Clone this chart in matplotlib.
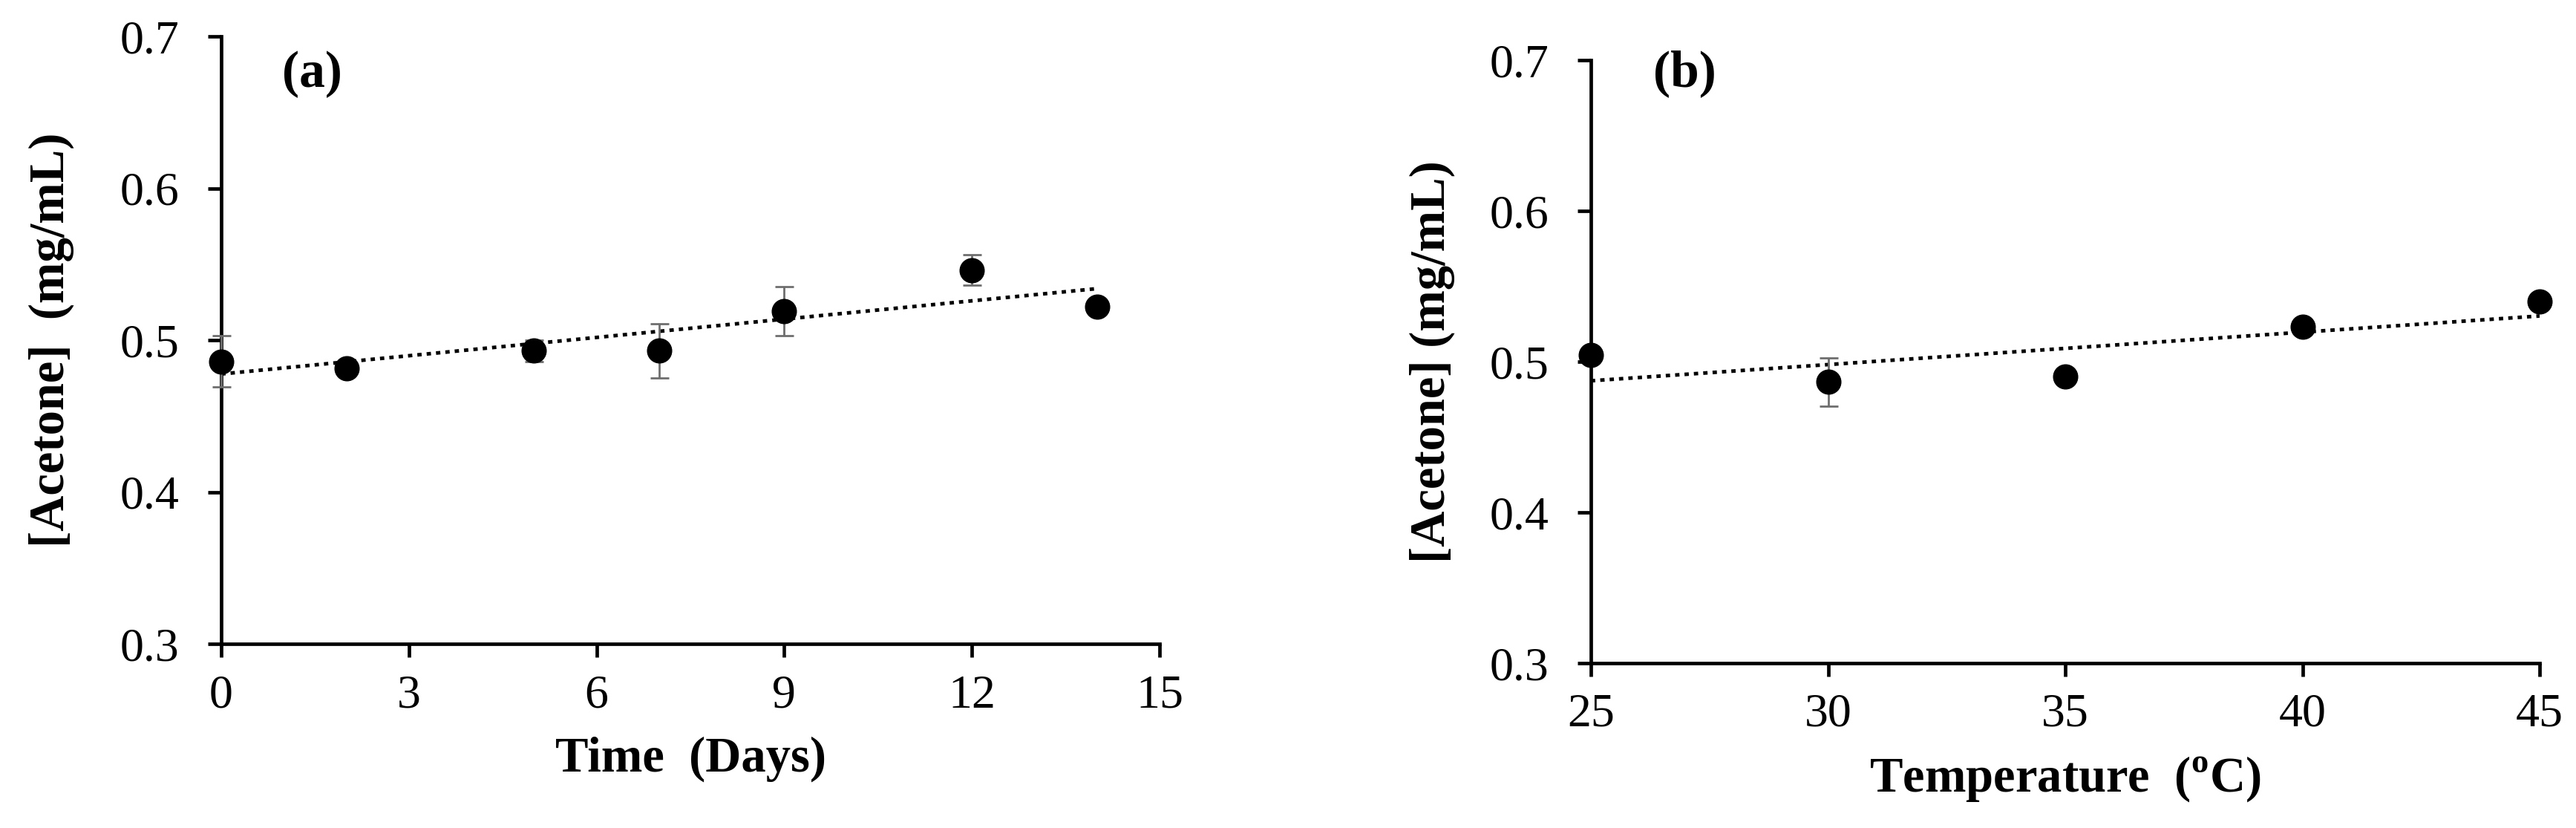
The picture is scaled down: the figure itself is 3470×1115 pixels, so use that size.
import matplotlib
matplotlib.use("Agg")
import matplotlib.pyplot as plt
import numpy as np

plt.rcParams['font.family'] = ['Liberation Serif', 'DejaVu Serif']
plt.rcParams['mathtext.fontset'] = 'custom'
plt.rcParams['mathtext.rm'] = 'Liberation Serif'
plt.rcParams['mathtext.bf'] = 'Liberation Serif:bold'

# --- (a) Acetone vs. time ---
days = [0, 2, 5, 7, 9, 12, 14]
acetone_days = [0.486, 0.4815, 0.493, 0.493, 0.519, 0.546, 0.522]
err_days = [0.017, 0.004, 0.007, 0.018, 0.016, 0.010, 0.003]

# --- (b) Acetone vs. temperature ---
temps = [25, 30, 35, 40, 45]
acetone_temps = [0.5045, 0.4865, 0.490, 0.523, 0.540]
err_temps = [0.004, 0.016, 0.004, 0.004, 0.004]

y_ticks = [0.3, 0.4, 0.5, 0.6, 0.7]
x_ticks_a = [0, 3, 6, 9, 12, 15]
x_ticks_b = [25, 30, 35, 40, 45]

fig = plt.figure(figsize=(34.7, 11.15), dpi=100)
ax1 = fig.add_axes([0.08588, 0.22242, 0.36427, 0.73363])
ax2 = fig.add_axes([0.61758, 0.1991, 0.3683, 0.72825])


def zeichne(ax, x, y, err, xticks, xlabel, ylabel, tag, tag_pos, ylabel_x, xpad):
    x = np.array(x)
    y = np.array(y)
    # lineare Trendlinie wie in Excel
    k, d = np.polyfit(x, y, 1)
    xs = np.array([x.min(), x.max()])
    ax.plot(xs, k * xs + d, color='black', lw=3.5, dashes=(1.2, 1.4), zorder=2)
    ax.errorbar(x, y, yerr=err, fmt='none', ecolor='#6e6e6e', elinewidth=2,
                capsize=9, capthick=2, zorder=3, clip_on=False)
    ax.plot(x, y, 'o', color='black', ms=23.5, zorder=4, clip_on=False)

    ax.set_xlim(xticks[0], xticks[-1])
    ax.set_ylim(0.3, 0.7)
    ax.set_xticks(xticks)
    ax.set_yticks(y_ticks)
    ax.set_yticklabels([f"{v:.1f}" for v in y_ticks])
    ax.spines['top'].set_visible(False)
    ax.spines['right'].set_visible(False)
    for s in ['left', 'bottom']:
        ax.spines[s].set_linewidth(3.4)
    ax.tick_params(axis='both', direction='out', length=13, width=3.4, labelsize=46)
    ax.tick_params(axis='y', pad=28)
    ax.tick_params(axis='x', pad=xpad)

    ax.set_xlabel(xlabel, fontsize=48, fontweight='bold', labelpad=18)
    ax.set_ylabel(ylabel, fontsize=48, fontweight='bold')
    ax.yaxis.set_label_coords(ylabel_x, 0.5)
    ax.text(tag_pos[0], tag_pos[1], tag, transform=ax.transAxes, fontsize=50,
            fontweight='bold', ha='left', va='center')


zeichne(ax1, days, acetone_days, err_days, x_ticks_a, 'Time  (Days)',
        '[Acetone]  (mg/mL)', '(a)', (0.065, 0.938), -0.157, 17)
zeichne(ax2, temps, acetone_temps, err_temps, x_ticks_b, r'Temperature  (${}^{\mathbf{o}}$C)',
        '[Acetone] (mg/mL)', '(b)', (0.066, 0.978), -0.143, 16)

fig.savefig("out.png", dpi=100, facecolor='white')
